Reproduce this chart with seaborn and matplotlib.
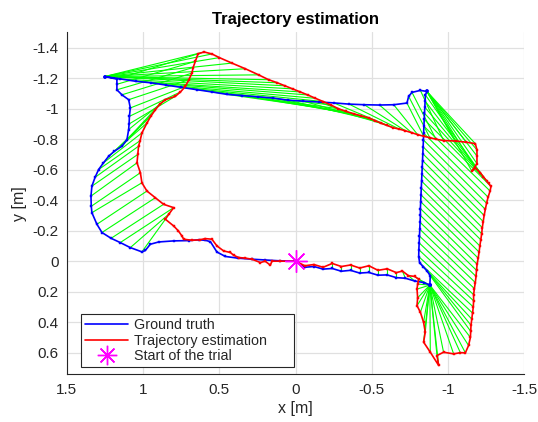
import numpy as np
import pandas as pd
import matplotlib
matplotlib.use("Agg")
import matplotlib.pyplot as plt
from matplotlib.lines import Line2D
import seaborn as sns

# ---------------- data ----------------
# time-aligned samples: ground truth and estimation, linked sample by sample
gt_x = [0.00, -0.06, -0.12, -0.18, -0.24, -0.30, -0.36, -0.42, -0.48, -0.54, -0.60, -0.66, -0.72, -0.78, -0.84, -0.88,
        -0.88, -0.88, -0.88, -0.88, -0.88, -0.88, -0.88, -0.88, -0.88, -0.88, -0.88, -0.88, -0.88, -0.88, -0.88, -0.88, -0.88,
        -0.883, -0.861, -0.835, -0.813, -0.807, -0.808, -0.810, -0.812, -0.814, -0.816, -0.818, -0.818, -0.820, -0.822, -0.824,
        -0.826, -0.828, -0.830, -0.832, -0.834, -0.836, -0.838, -0.839, -0.841,
        -0.843, -0.845, -0.847, -0.849, -0.851, -0.861,
        -0.861, -0.861, -0.861, -0.861, -0.861, -0.861, -0.861,
        -0.818, -0.763, -0.741, -0.730, -0.643, -0.550, -0.450, -0.350, -0.250, -0.150, -0.050, 0.050, 0.150, 0.250, 0.350,
        0.450, 0.550, 0.650, 0.750, 0.850, 0.950, 1.050, 1.150, 1.252,
        1.252, 1.252, 1.252, 1.252, 1.252, 1.252, 1.252, 1.252,
        1.172, 1.172, 1.172, 1.139, 1.095, 1.084, 1.090, 1.092, 1.095, 1.106, 1.139, 1.190, 1.226, 1.260, 1.292, 1.315,
        1.336, 1.342, 1.340, 1.336, 1.303, 1.270, 1.210, 1.150, 1.084, 1.008]
gt_y = [0.000, 0.040, 0.035, 0.052, 0.048, 0.066, 0.060, 0.078, 0.074, 0.092, 0.090, 0.108, 0.112, 0.130, 0.140, 0.157,
        0.157, 0.157, 0.157, 0.157, 0.157, 0.157, 0.157, 0.157, 0.157, 0.157, 0.157, 0.157, 0.157, 0.157, 0.157, 0.157, 0.157,
        0.096, 0.063, 0.035, 0.010, -0.030, -0.075, -0.120, -0.165, -0.210, -0.255, -0.300, -0.345, -0.390, -0.435, -0.480,
        -0.525, -0.570, -0.615, -0.660, -0.705, -0.750, -0.795, -0.840, -0.885,
        -0.930, -0.970, -1.010, -1.050, -1.090, -1.113,
        -1.113, -1.113, -1.113, -1.113, -1.113, -1.113, -1.113,
        -1.120, -1.107, -1.081, -1.037, -1.026, -1.024, -1.026, -1.030, -1.038, -1.044, -1.050, -1.056, -1.070, -1.078, -1.086,
        -1.094, -1.110, -1.125, -1.140, -1.155, -1.170, -1.180, -1.195, -1.211,
        -1.211, -1.211, -1.211, -1.211, -1.211, -1.211, -1.211, -1.211,
        -1.194, -1.160, -1.124, -1.091, -1.059, -1.005, -0.950, -0.900, -0.863, -0.797, -0.754, -0.720, -0.688, -0.645, -0.601,
        -0.550, -0.492, -0.427, -0.360, -0.318, -0.242, -0.188, -0.150, -0.122, -0.089, -0.061]

est_x = [0.00, -0.06, -0.12, -0.18, -0.24, -0.30, -0.36, -0.42, -0.48, -0.54, -0.60, -0.66, -0.70, -0.74, -0.78, -0.807,
         -0.800, -0.796, -0.800, -0.796, -0.818, -0.839, -0.850, -0.839, -0.883, -0.938, -0.927, -0.970, -1.036, -1.080,
         -1.113, -1.134, -1.146,
         -1.148, -1.150, -1.155, -1.160, -1.165, -1.167, -1.167, -1.172, -1.178, -1.183, -1.186, -1.190, -1.197, -1.203,
         -1.208, -1.214, -1.220, -1.224, -1.230, -1.236, -1.244, -1.252, -1.262, -1.275,
         -1.281, -1.266, -1.254, -1.230, -1.211, -1.178,
         -1.156, -1.189, -1.189, -1.189, -1.178, -1.120, -1.050,
         -0.970, -0.920, -0.880, -0.840, -0.800, -0.760, -0.720, -0.680, -0.640, -0.600, -0.560, -0.520, -0.480, -0.430,
         -0.380, -0.330, -0.280, -0.230, -0.180, -0.130, -0.080, -0.030, 0.020, 0.070,
         0.120, 0.177, 0.243, 0.330, 0.418, 0.500, 0.549, 0.600,
         0.640, 0.658, 0.672, 0.680, 0.700, 0.723, 0.755, 0.789, 0.854, 0.890, 0.920, 0.950, 0.975, 1.008, 1.020, 1.030,
         1.035, 1.040, 1.018, 1.008, 0.975, 0.920, 0.866, 0.800, 0.830, 0.854]
est_y = [0.000, 0.030, 0.022, 0.040, 0.015, 0.035, 0.025, 0.045, 0.030, 0.060, 0.050, 0.075, 0.065, 0.095, 0.100, 0.118,
         0.150, 0.183, 0.240, 0.292, 0.335, 0.401, 0.466, 0.531, 0.597, 0.684, 0.619, 0.597, 0.608, 0.600, 0.601, 0.553, 0.500,
         0.460, 0.420, 0.380, 0.340, 0.300, 0.260, 0.220, 0.180, 0.140, 0.100, 0.060, 0.020, -0.020, -0.060, -0.100,
         -0.140, -0.180, -0.220, -0.260, -0.300, -0.340, -0.380, -0.420, -0.460,
         -0.490, -0.510, -0.525, -0.555, -0.580, -0.612,
         -0.590, -0.640, -0.690, -0.730, -0.771, -0.780, -0.788,
         -0.791, -0.800, -0.810, -0.819, -0.830, -0.843, -0.855, -0.866, -0.875, -0.890, -0.905, -0.922, -0.939, -0.953,
         -0.967, -0.982, -1.000, -1.025, -1.047, -1.068, -1.090, -1.110, -1.130, -1.150,
         -1.170, -1.190, -1.222, -1.262, -1.299, -1.335, -1.359, -1.372,
         -1.360, -1.310, -1.270, -1.233, -1.190, -1.146, -1.110, -1.081, -1.059, -1.030, -0.993, -0.950, -0.906, -0.841,
         -0.790, -0.754, -0.700, -0.645, -0.580, -0.514, -0.460, -0.416, -0.373, -0.351, -0.310, -0.275]

# final return to the start (no correspondence links drawn)
gt_ret_x = [0.986, 0.953, 0.898, 0.800, 0.700, 0.636, 0.592, 0.559, 0.516, 0.461, 0.380, 0.287, 0.200, 0.100, 0.000]
gt_ret_y = [-0.070, -0.111, -0.126, -0.133, -0.135, -0.140, -0.137, -0.128, -0.060, -0.031, -0.020, -0.013, -0.008, -0.002, 0.000]
est_ret_x = [0.800, 0.770, 0.746, 0.734, 0.680, 0.630, 0.592, 0.549, 0.516, 0.472, 0.428, 0.407, 0.374, 0.330, 0.287,
             0.231, 0.200, 0.166, 0.155, 0.100, 0.000]
est_ret_y = [-0.231, -0.200, -0.166, -0.144, -0.137, -0.140, -0.148, -0.144, -0.100, -0.067, -0.057, -0.039, -0.024,
             -0.020, -0.013, 0.009, 0.000, 0.026, 0.000, 0.000, 0.000]

start_x = [0.0]
start_y = [0.0]

x_ticks = [1.5, 1, 0.5, 0, -0.5, -1, -1.5]
x_tick_labels = ["1.5", "1", "0.5", "0", "-0.5", "-1", "-1.5"]
y_ticks = [-1.4, -1.2, -1.0, -0.8, -0.6, -0.4, -0.2, 0.0, 0.2, 0.4, 0.6]
y_tick_labels = ["-1.4", "-1.2", "-1", "-0.8", "-0.6", "-0.4", "-0.2", "0", "0.2", "0.4", "0.6"]
legend_labels = ["Ground truth", "Trajectory estimation", "Start of the trial"]

# ---------------- tables ----------------
gt_df = pd.DataFrame({"x": gt_x + gt_ret_x, "y": gt_y + gt_ret_y})
est_df = pd.DataFrame({"x": est_x + est_ret_x, "y": est_y + est_ret_y})
n = len(gt_x)
links = pd.DataFrame({
    "x": [v for i in range(n) for v in (gt_x[i], est_x[i])],
    "y": [v for i in range(n) for v in (gt_y[i], est_y[i])],
    "seg": [i for i in range(n) for _ in range(2)],
})

# ---------------- style ----------------
sns.set_style("white")
plt.rcParams["font.family"] = ["Liberation Sans", "DejaVu Sans"]
plt.rcParams["axes.unicode_minus"] = False

fig = plt.figure(figsize=(5.38, 4.22), dpi=100)
ax = fig.add_axes([0.1243, 0.113, 0.8504, 0.8101])

blue = "#0000ff"
red = "#ff0000"
green = "#00ff00"
magenta = "#ff00ff"

sns.lineplot(data=links, x="x", y="y", units="seg", estimator=None, sort=False,
             color=green, lw=0.8, ax=ax, zorder=2, legend=False)
sns.lineplot(data=gt_df, x="x", y="y", estimator=None, sort=False, color=blue, lw=1.2,
             marker="s", ms=2.0, mec=blue, mew=0.3, ax=ax, zorder=3, legend=False)
sns.lineplot(data=est_df, x="x", y="y", estimator=None, sort=False, color=red, lw=1.2,
             marker="s", ms=2.0, mec=red, mew=0.3, ax=ax, zorder=4, legend=False)
ax.plot(start_x, start_y, ls="none", marker=(8, 2, 0), ms=16, mew=1.0,
        color=magenta, mec=magenta, zorder=5)

ax.set_xlim(1.5, -1.5)
ax.set_ylim(0.742, -1.5)
ax.set_xticks(x_ticks)
ax.set_xticklabels(x_tick_labels)
ax.set_yticks(y_ticks)
ax.set_yticklabels(y_tick_labels)

ax.grid(True, color="#e0e0e0", lw=0.9)
ax.set_axisbelow(True)
for s in ["top", "right"]:
    ax.spines[s].set_visible(False)
for s in ["left", "bottom"]:
    ax.spines[s].set_color("#262626")
    ax.spines[s].set_linewidth(0.8)
ax.tick_params(direction="in", length=4, width=0.8, color="#262626",
               labelcolor="#262626", labelsize=11, pad=6)

ax.set_xlabel("x [m]", fontsize=11.5, color="#262626", labelpad=3)
ax.set_ylabel("y [m]", fontsize=11.5, color="#262626", labelpad=4)
ax.set_title("Trajectory estimation", fontsize=12, fontweight="bold", color="black", pad=6)

handles = [
    Line2D([], [], color=blue, lw=1.2),
    Line2D([], [], color=red, lw=1.2),
    Line2D([], [], color=magenta, ls="none", marker=(8, 2, 0), ms=14, mew=1.0),
]
leg = ax.legend(handles, legend_labels, loc="lower left", bbox_to_anchor=(0.031, 0.02, 0.466, 0.16),
                mode="expand", borderaxespad=0, fontsize=10.3, frameon=True, fancybox=False, framealpha=1,
                edgecolor="#262626", handlelength=3.0, labelspacing=0.1, borderpad=0.3,
                handletextpad=0.4)
leg.get_frame().set_linewidth(0.8)

fig.savefig("out.png", dpi=100)
